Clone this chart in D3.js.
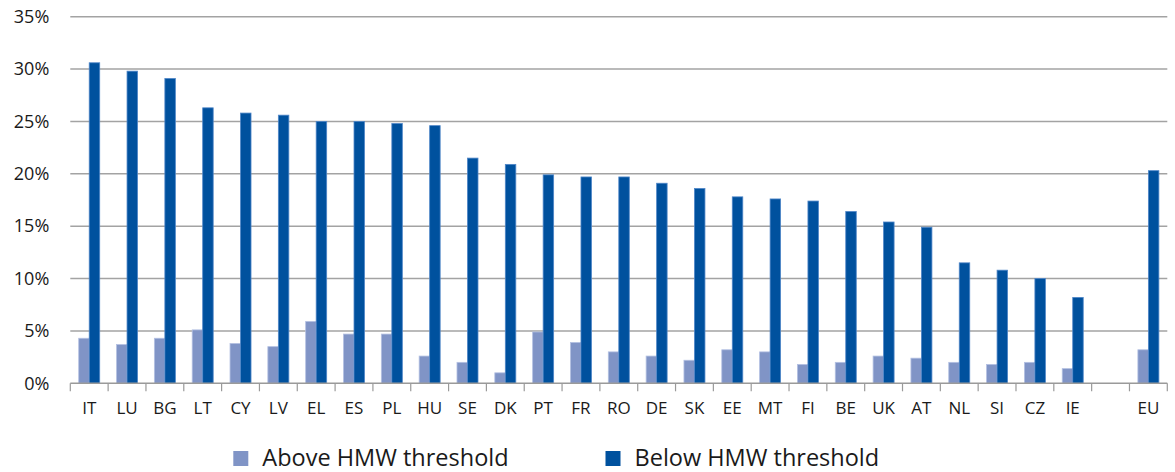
<!DOCTYPE html>
<html>
<head>
<meta charset="utf-8">
<script src="https://cdn.jsdelivr.net/npm/d3@7"></script>
<style>
  html, body { margin: 0; padding: 0; background: #fff; }
  svg { display: block; font-family: "Open Sans", "Noto Sans", sans-serif; }
</style>
</head>
<body>
<svg id="chart" width="1175" height="472"></svg>
<script>
// Countries (blank slot before the EU aggregate)
const categories = ["IT","LU","BG","LT","CY","LV","EL","ES","PL","HU","SE","DK","PT","FR","RO","DE","SK","EE","MT","FI","BE","UK","AT","NL","SI","CZ","IE","","EU"];

// Share of workers, in percent
const aboveHMW = [4.3,3.7,4.3,5.1,3.8,3.5,5.9,4.7,4.7,2.6,2.0,1.0,4.9,3.9,3.0,2.6,2.2,3.2,3.0,1.8,2.0,2.6,2.4,2.0,1.8,2.0,1.4,null,3.2];
const belowHMW = [30.6,29.8,29.1,26.3,25.8,25.6,25.0,25.0,24.8,24.6,21.5,20.9,19.9,19.7,19.7,19.1,18.6,17.8,17.6,17.4,16.4,15.4,14.9,11.5,10.8,10.0,8.2,null,20.3];

const seriesNames = ["Above HMW threshold", "Below HMW threshold"];
const yTicks = [0, 5, 10, 15, 20, 25, 30, 35];

const colors = { above: "#8094c6", below: "#00519e" };
const strokes = { above: "#b3c0e2", below: "#4f86c8" };

const svg = d3.select("#chart");
const plotLeft = 70.3, plotRight = 1167.3, plotTop = 16.7, plotBottom = 383.3;

const y = d3.scaleLinear().domain([0, 35]).range([plotBottom, plotTop]);
const x = d3.scaleBand().domain(categories.map((c, i) => i)).range([plotLeft, plotRight]);
const xGroup = d3.scaleBand().domain(categories.map((c, i) => i)).range([plotLeft, plotRight])
  .paddingInner(0.445).paddingOuter(0.2225);
const xSub = d3.scaleBand().domain(["above", "below"]).range([0, xGroup.bandwidth()]);

// Horizontal gridlines
svg.append("g")
  .selectAll("line")
  .data(yTicks.filter(d => d > 0))
  .join("line")
  .attr("x1", plotLeft).attr("x2", plotRight)
  .attr("y1", d => y(d)).attr("y2", d => y(d))
  .attr("stroke", "#a3a3a3")
  .attr("stroke-width", 1.4);

// Y axis labels
const yAxis = d3.axisLeft(y).tickValues(yTicks).tickFormat(d => d + "%").tickSize(0).tickPadding(21);
const gy = svg.append("g").attr("transform", `translate(${plotLeft},0)`).call(yAxis);
gy.select(".domain").remove();
gy.selectAll("text").attr("font-size", 18).attr("fill", "#1a1a1a")
  .attr("font-family", "'Open Sans', 'Noto Sans', sans-serif");

// Bars
const rows = categories.map((c, i) => ({ i, above: aboveHMW[i], below: belowHMW[i] }));
const groups = svg.append("g").selectAll("g")
  .data(rows)
  .join("g")
  .attr("transform", d => `translate(${xGroup(d.i)},0)`);

groups.selectAll("rect")
  .data(d => ["above", "below"].filter(k => d[k] != null).map(k => ({ key: k, value: d[k] })))
  .join("rect")
  .attr("x", d => xSub(d.key))
  .attr("width", xSub.bandwidth())
  .attr("y", d => y(d.value))
  .attr("height", d => y(0) - y(d.value))
  .attr("fill", d => colors[d.key])
  .attr("stroke", d => strokes[d.key])
  .attr("stroke-width", 0.8);

// X axis line with ticks at category boundaries
const gx = svg.append("g");
gx.append("line")
  .attr("x1", plotLeft).attr("x2", plotRight)
  .attr("y1", plotBottom).attr("y2", plotBottom)
  .attr("stroke", "#9a9a9a").attr("stroke-width", 1.4);
const boundaries = categories.map((c, i) => x(i)).concat([plotRight]);
gx.selectAll("line.tick")
  .data(boundaries)
  .join("line")
  .attr("class", "tick")
  .attr("x1", d => d).attr("x2", d => d)
  .attr("y1", plotBottom).attr("y2", plotBottom + 8)
  .attr("stroke", "#9a9a9a").attr("stroke-width", 1.2);

gx.selectAll("text")
  .data(rows)
  .join("text")
  .attr("x", d => x(d.i) + x.bandwidth() / 2)
  .attr("y", 413.7)
  .attr("text-anchor", "middle")
  .attr("font-size", 17)
  .attr("fill", "#1a1a1a")
  .text(d => categories[d.i]);

// Legend
const legendItems = [
  { key: "above", label: seriesNames[0], x: 233.3 },
  { key: "below", label: seriesNames[1], x: 605.5 }
];
const lg = svg.append("g").selectAll("g").data(legendItems).join("g")
  .attr("transform", d => `translate(${d.x},451)`);
lg.append("rect").attr("width", 15).attr("height", 15).attr("fill", d => colors[d.key]);
lg.append("text").attr("x", 29).attr("y", 14.5).attr("font-size", 23.5).attr("fill", "#1a1a1a")
  .text(d => d.label);
</script>
</body>
</html>
